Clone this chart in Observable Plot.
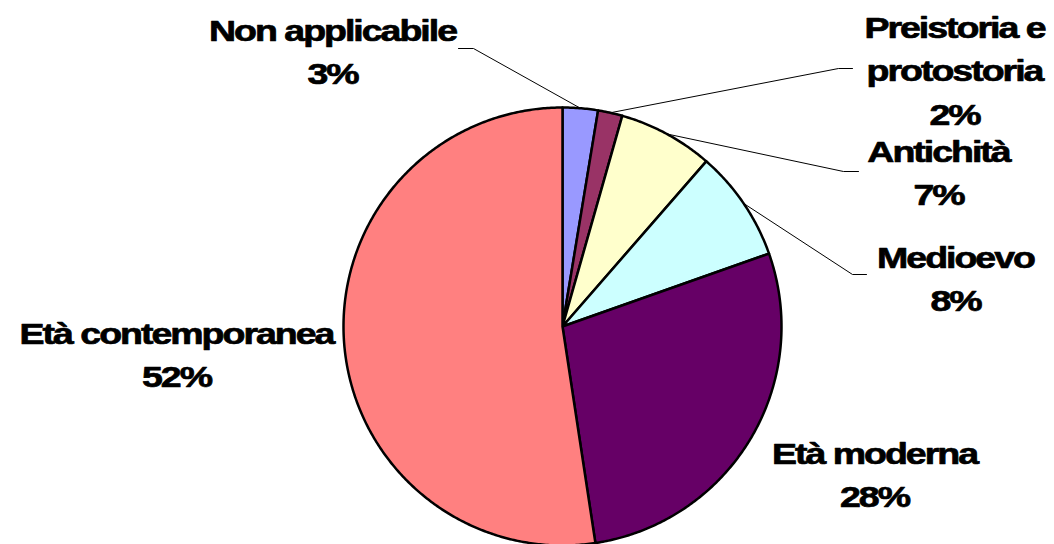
<!DOCTYPE html>
<html>
<head>
<meta charset="utf-8">
<script src="https://cdn.jsdelivr.net/npm/d3@7"></script>
<script src="https://cdn.jsdelivr.net/npm/@observablehq/plot@0.6"></script>
<style>
  html, body { margin: 0; padding: 0; background: #fff; }
  #chart { width: 1054px; height: 544px; }
</style>
</head>
<body>
<div id="chart"></div>
<script>
// ---- data ----
const categories = ["Non applicabile", "Preistoria e protostoria", "Antichità", "Medioevo", "Età moderna", "Età contemporanea"];
const labelText = ["Non applicabile", "Preistoria e\nprotostoria", "Antichità", "Medioevo", "Età moderna", "Età contemporanea"];
const values = [2.6, 1.8, 7.0, 8.2, 28.0, 52.4];
const colors = ["#9999FF", "#993366", "#FFFFCC", "#CCFFFF", "#660066", "#FF8080"];

// ---- layout ----
const W = 1054, H = 544;
const cx = 562, cy = 326, R = 219;
// label placement (first-line baseline) and leader line elbows
const labelLayout = [
  {x: 332, y: 40,  elbow: [[473, 48], [458, 48]]},
  {x: 954, y: 37,  elbow: [[838, 68], [852, 68]]},
  {x: 938, y: 161, elbow: [[843, 171], [858, 171]]},
  {x: 955, y: 267, elbow: [[852, 274], [866, 274]]},
  {x: 874, y: 463, elbow: null},
  {x: 176, y: 343, elbow: null}
];

const pie = d3.pie().sort(null).value(d => d)(values);
const pt = (a, r) => [cx + r * Math.sin(a), cy - r * Math.cos(a)];

const slicePts = [];
pie.forEach((p, i) => {
  const name = categories[i];
  slicePts.push({name, x: cx, y: cy});
  const n = Math.max(2, Math.ceil((p.endAngle - p.startAngle) / (Math.PI / 360)));
  for (let k = 0; k <= n; k++) {
    const a = p.startAngle + (p.endAngle - p.startAngle) * k / n;
    const [x, y] = pt(a, R);
    slicePts.push({name, x, y});
  }
  slicePts.push({name, x: cx, y: cy});
});

const leaderPts = [];
pie.forEach((p, i) => {
  const L = labelLayout[i];
  if (!L.elbow) return;
  const mid = (p.startAngle + p.endAngle) / 2;
  const [x0, y0] = pt(mid, R);
  leaderPts.push({name: categories[i], x: x0, y: y0});
  L.elbow.forEach(([x, y]) => leaderPts.push({name: categories[i], x, y}));
});

const labels = pie.map((p, i) => ({
  text: labelText[i] + "\n" + Math.round(values[i]) + "%",
  x: labelLayout[i].x,
  y: labelLayout[i].y - 30
}));

const chart = Plot.plot({
  width: W,
  height: H,
  margin: 0,
  x: {domain: [0, W], range: [0, W], axis: null},
  y: {domain: [0, H], range: [0, H], axis: null},
  color: {domain: categories, range: colors},
  style: {background: "#fff"},
  marks: [
    Plot.line(leaderPts, {x: "x", y: "y", z: "name", stroke: "#000", strokeWidth: 1, curve: "linear"}),
    Plot.line(slicePts, {x: "x", y: "y", z: "name", fill: "name", stroke: "#000", strokeWidth: 2.5, strokeLinejoin: "round"}),
    Plot.text(labels, {
      x: "x", y: "y", text: "text",
      fontFamily: "Liberation Sans, Arial, sans-serif",
      fontWeight: "bold", fontSize: 30, lineHeight: 1.44,
      lineAnchor: "top", textAnchor: "middle", fill: "#000",
      stroke: "#000", strokeWidth: 0.7
    })
  ]
});

chart.querySelectorAll('g[aria-label="text"] text').forEach(t => {
  const tr = t.getAttribute("transform");
  if (tr) t.setAttribute("transform", tr + " scale(1.25,1)");
  t.setAttribute("letter-spacing", "-1.6");
});

document.getElementById("chart").appendChild(chart);
</script>
</body>
</html>
